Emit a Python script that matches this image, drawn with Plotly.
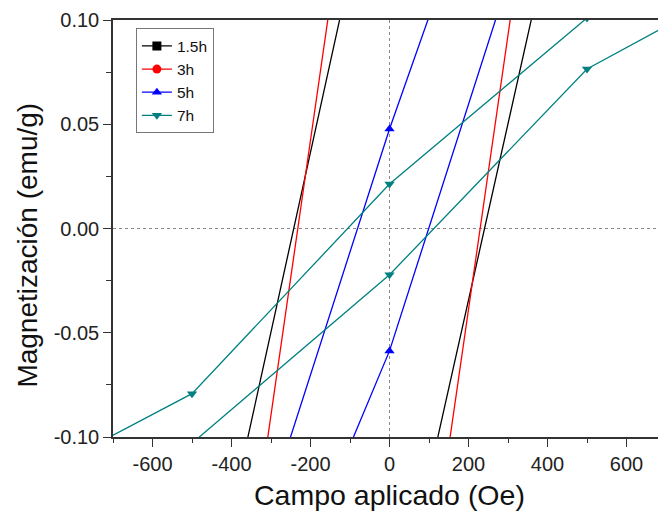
import plotly.graph_objects as go

# Applied field (Oe), loop traced from +Hmax down to -Hmax and back
field_oe = [1000, 500, 0, -500, -1000, -500, 0, 500, 1000]

# Magnetization (emu/g) for each milling time
m_1_5h = [0.45, 0.42, 0.209, -0.222, -0.45, -0.41, -0.2035, 0.2195, 0.45]
m_3h = [0.62, 0.55, 0.306, -0.353, -0.62, -0.55, -0.302, 0.356, 0.62]
m_5h = [0.45, 0.317, 0.0477, -0.247, -0.45, -0.285, -0.0587, 0.237, 0.45]
m_7h = [0.128, 0.101, 0.0213, -0.0792, -0.129, -0.103, -0.0222, 0.0765, 0.128]

series_names = ["1.5h", "3h", "5h", "7h"]
series_values = [m_1_5h, m_3h, m_5h, m_7h]
series_colors = ["#000000", "#FF0000", "#0000FF", "#008080"]
series_symbols = ["square", "circle", "triangle-up", "triangle-down"]

x_tick_vals = [-600, -400, -200, 0, 200, 400, 600]
x_tick_text = ["-600", "-400", "-200", "0", "200", "400", "600"]
y_tick_vals = [-0.10, -0.05, 0.00, 0.05, 0.10]
y_tick_text = ["-0.10", "-0.05", "0.00", "0.05", "0.10"]

FONT = "Arial, Liberation Sans, sans-serif"

fig = go.Figure()
for name, vals, col, sym in zip(series_names, series_values, series_colors, series_symbols):
    fig.add_trace(go.Scatter(
        x=field_oe, y=vals, name=name, mode="lines+markers",
        line=dict(color=col, width=1.3),
        marker=dict(symbol=sym, size=9, color=col),
        cliponaxis=True,
    ))

axis_common = dict(
    showgrid=False, zeroline=False, showline=True, linecolor="#333333", linewidth=1.5,
    ticks="outside", ticklen=8, tickwidth=1.3, tickcolor="#333333",
    tickfont=dict(family=FONT, size=20, color="#222222"),
    automargin=False,
)

fig.update_xaxes(
    range=[-700, 679.7], tickmode="array", tickvals=x_tick_vals, ticktext=x_tick_text,
    mirror=True,
    minor=dict(tickmode="linear", tick0=0, dtick=100, ticks="outside", ticklen=4,
               tickwidth=1.2, tickcolor="#333333", showgrid=False),
    **axis_common,
)
fig.update_yaxes(
    range=[-0.1, 0.1], tickmode="array", tickvals=y_tick_vals, ticktext=y_tick_text,
    minor=dict(tickmode="linear", tick0=0, dtick=0.025, ticks="outside", ticklen=5,
               tickwidth=1.2, tickcolor="#333333", showgrid=False),
    **axis_common,
)

# dotted reference lines at x=0 and y=0
fig.add_shape(type="line", xref="x", yref="paper", x0=0, x1=0, y0=0, y1=1,
              line=dict(color="#888888", width=1, dash="dot"), layer="below")
fig.add_shape(type="line", xref="paper", yref="y", x0=0, x1=1, y0=0, y1=0,
              line=dict(color="#888888", width=1, dash="dot"), layer="below")

# axis titles
fig.add_annotation(text="Campo aplicado (Oe)", xref="x", yref="paper", x=0, y=-0.14,
                   xanchor="center", yanchor="middle", showarrow=False,
                   font=dict(family=FONT, size=28.5, color="#111111"))
fig.add_annotation(text="Magnetización (emu/g)", xref="paper", yref="paper", x=-0.157, y=0.46,
                   xanchor="center", yanchor="middle", textangle=-90, showarrow=False,
                   font=dict(family=FONT, size=28, color="#111111"))

fig.update_layout(
    width=658, height=513,
    margin=dict(l=113, r=0, t=20, b=76, autoexpand=False),
    paper_bgcolor="white", plot_bgcolor="white",
    showlegend=True,
    legend=dict(x=0.042, y=0.98, xanchor="left", yanchor="top",
                bgcolor="white", bordercolor="#777777", borderwidth=1,
                font=dict(family=FONT, size=15.5, color="#111111"),
                tracegroupgap=0),
)

fig.write_html(
    "out.html",
    config={"displayModeBar": False},
    post_script="document.body.style.margin='0px';document.body.style.overflow='hidden';",
)
